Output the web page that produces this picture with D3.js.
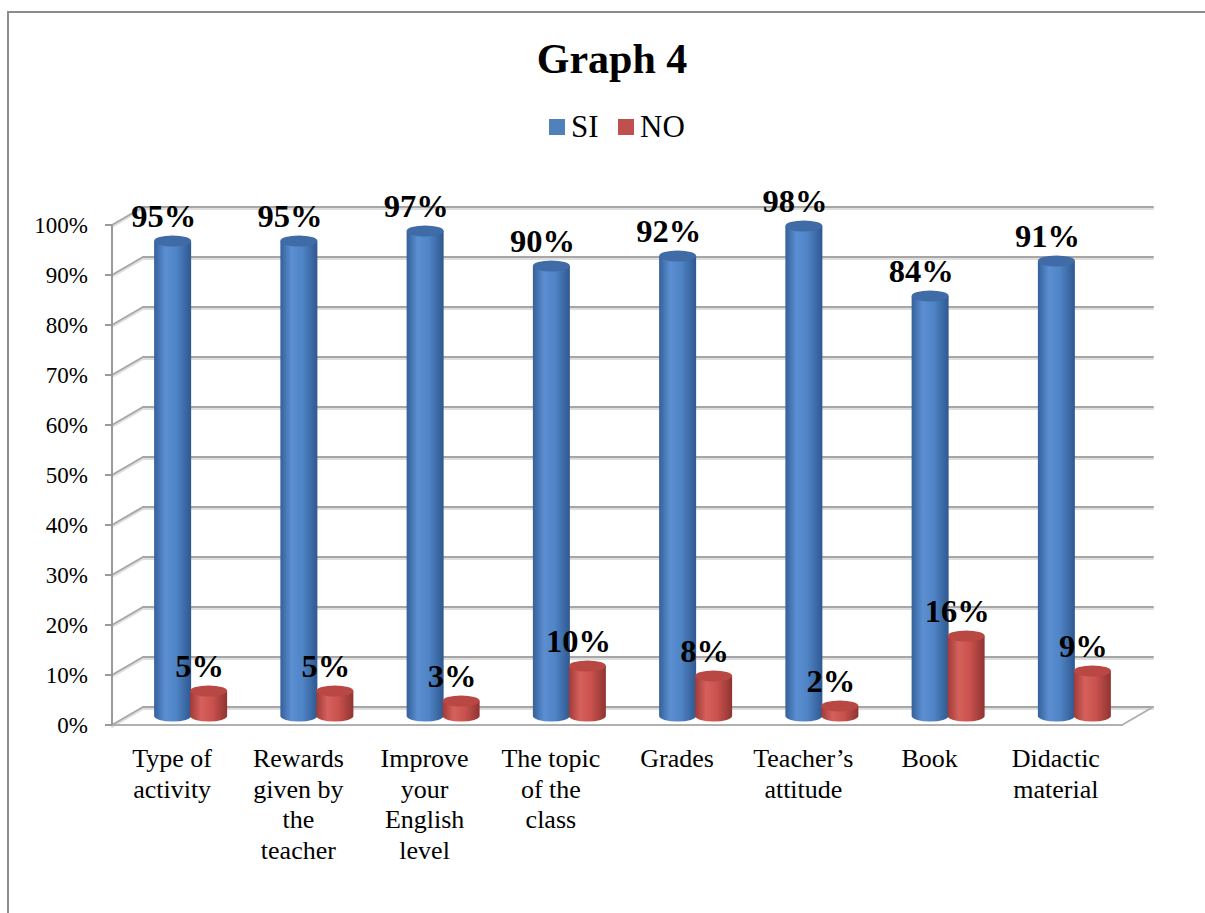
<!DOCTYPE html>
<html lang="en">
<head>
<meta charset="UTF-8">
<title>Graph 4</title>
<script src="https://d3js.org/d3.v7.min.js"></script>
<style>
  body { margin: 0; background: #fff; }
  text { font-family: "Liberation Serif", "Times New Roman", serif; fill: #000; }
</style>
</head>
<body>
<svg id="chart" width="1205" height="913"></svg>
<script>
// data
const categories = ["Type of activity", "Rewards given by the teacher", "Improve your English level",
  "The topic of the class", "Grades", "Teacher\u2019s attitude", "Book", "Didactic material"];
const categoryLines = [["Type of", "activity"], ["Rewards", "given by", "the", "teacher"],
  ["Improve", "your", "English", "level"], ["The topic", "of the", "class"], ["Grades"],
  ["Teacher\u2019s", "attitude"], ["Book"], ["Didactic", "material"]];
const siValues = [0.95, 0.95, 0.97, 0.90, 0.92, 0.98, 0.84, 0.91];
const noValues = [0.05, 0.05, 0.03, 0.10, 0.08, 0.02, 0.16, 0.09];
const yTicks = [0, 0.1, 0.2, 0.3, 0.4, 0.5, 0.6, 0.7, 0.8, 0.9, 1.0];
const seriesNames = ["SI", "NO"];

const svg = d3.select("#chart");
const depth = { dx: 31, dy: -18 };   // back wall offset
const mid = { dx: 15.5, dy: -9 };    // cylinders sit halfway in depth
const plotLeft = 112, plotRight = 1122, plotTop = 225, plotBottom = 725;

const x = d3.scaleBand().domain(categories).range([plotLeft, plotRight]);
const y = d3.scaleLinear().domain([0, 1]).range([plotBottom, plotTop]);
const fmt = d3.format(".0%");

// outer frame
svg.append("rect").attr("x", 8).attr("y", 12).attr("width", 1220).attr("height", 930)
  .attr("fill", "none").attr("stroke", "#8c8c8c").attr("stroke-width", 2);

// title
svg.append("text").attr("x", 612).attr("y", 73).attr("text-anchor", "middle")
  .attr("font-size", 42).attr("font-weight", "bold").text("Graph 4");

// legend
const colors = { SI: "#4f81bd", NO: "#c0504d" };
const legend = svg.append("g");
const legendX = [549, 618];
seriesNames.forEach((s, i) => {
  legend.append("rect").attr("x", legendX[i]).attr("y", 119).attr("width", 16).attr("height", 16)
    .attr("fill", colors[s]);
  legend.append("text").attr("x", legendX[i] + 22).attr("y", 137).attr("font-size", 31).text(s);
});

// gradients for cylinders
const defs = svg.append("defs");
function grad(id, stops) {
  const g = defs.append("linearGradient").attr("id", id).attr("x1", 0).attr("x2", 1).attr("y1", 0).attr("y2", 0);
  stops.forEach(([o, c]) => g.append("stop").attr("offset", o).attr("stop-color", c));
}
grad("gSI", [[0, "#35609a"], [0.3, "#5b8fd2"], [0.6, "#4f84c6"], [1, "#2f5890"]]);
grad("gNO", [[0, "#9e3b38"], [0.3, "#d6605c"], [0.6, "#c9524e"], [1, "#8f3431"]]);
const topFill = { SI: "#3f6ca6", NO: "#b94743" };

// grid: side wall diagonals + back wall lines
const grid = svg.append("g").attr("stroke-linecap", "round");
yTicks.forEach(t => {
  const yy = y(t);
  grid.append("line").attr("x1", plotLeft).attr("y1", yy + 2).attr("x2", plotLeft + depth.dx).attr("y2", yy + depth.dy + 2)
    .attr("stroke", "#dedede").attr("stroke-width", 2);
  grid.append("line").attr("x1", plotLeft + depth.dx).attr("y1", yy + depth.dy + 2).attr("x2", plotRight + depth.dx).attr("y2", yy + depth.dy + 2)
    .attr("stroke", "#dedede").attr("stroke-width", 2);
  grid.append("line").attr("x1", plotLeft).attr("y1", yy).attr("x2", plotLeft + depth.dx).attr("y2", yy + depth.dy)
    .attr("stroke", "#a6a6a6").attr("stroke-width", 2);
  grid.append("line").attr("x1", plotLeft + depth.dx).attr("y1", yy + depth.dy).attr("x2", plotRight + depth.dx).attr("y2", yy + depth.dy)
    .attr("stroke", "#a6a6a6").attr("stroke-width", 2);
});
// floor front and right edge
grid.append("line").attr("x1", plotLeft).attr("y1", plotBottom).attr("x2", plotRight).attr("y2", plotBottom)
  .attr("stroke", "#b0b0b0").attr("stroke-width", 2);
grid.append("line").attr("x1", plotRight).attr("y1", plotBottom).attr("x2", plotRight + depth.dx).attr("y2", plotBottom + depth.dy)
  .attr("stroke", "#b0b0b0").attr("stroke-width", 2);

// y axis
const axis = svg.append("g");
axis.append("line").attr("x1", plotLeft).attr("y1", plotTop).attr("x2", plotLeft).attr("y2", plotBottom)
  .attr("stroke", "#9a9a9a").attr("stroke-width", 2);
yTicks.forEach(t => {
  axis.append("line").attr("x1", plotLeft - 7).attr("y1", y(t)).attr("x2", plotLeft).attr("y2", y(t))
    .attr("stroke", "#9a9a9a").attr("stroke-width", 2);
  axis.append("text").attr("x", 88).attr("y", y(t) + 8).attr("text-anchor", "end")
    .attr("font-size", 23).text(fmt(t));
});

// cylinders
const r = 18.5, ry = 5.5;
const bars = svg.append("g");
categories.forEach((c, i) => {
  const cx0 = x(c) + x.bandwidth() / 2 + mid.dx;
  [["SI", siValues[i], -18], ["NO", noValues[i], 18]].forEach(([s, v, off]) => {
    const cx = cx0 + off;
    const base = y(0) + mid.dy;
    const topY = y(v) + mid.dy;
    bars.append("path")
      .attr("d", `M${cx - r},${topY} L${cx - r},${base} A${r},${ry} 0 0 0 ${cx + r},${base} L${cx + r},${topY} Z`)
      .attr("fill", `url(#g${s})`);
    bars.append("ellipse").attr("cx", cx).attr("cy", topY).attr("rx", r).attr("ry", ry)
      .attr("fill", topFill[s]);
    bars.append("text").attr("x", cx - 9).attr("y", topY - 14).attr("text-anchor", "middle")
      .attr("font-size", 32.5).attr("font-weight", "bold").text(fmt(v));
  });
});

// category labels
const labels = svg.append("g");
categories.forEach((c, i) => {
  const t = labels.append("text").attr("text-anchor", "middle").attr("font-size", 26);
  categoryLines[i].forEach((line, k) => {
    t.append("tspan").attr("x", x(c) + x.bandwidth() / 2 - 3).attr("y", 767 + k * 30.5).text(line);
  });
});
</script>
</body>
</html>
